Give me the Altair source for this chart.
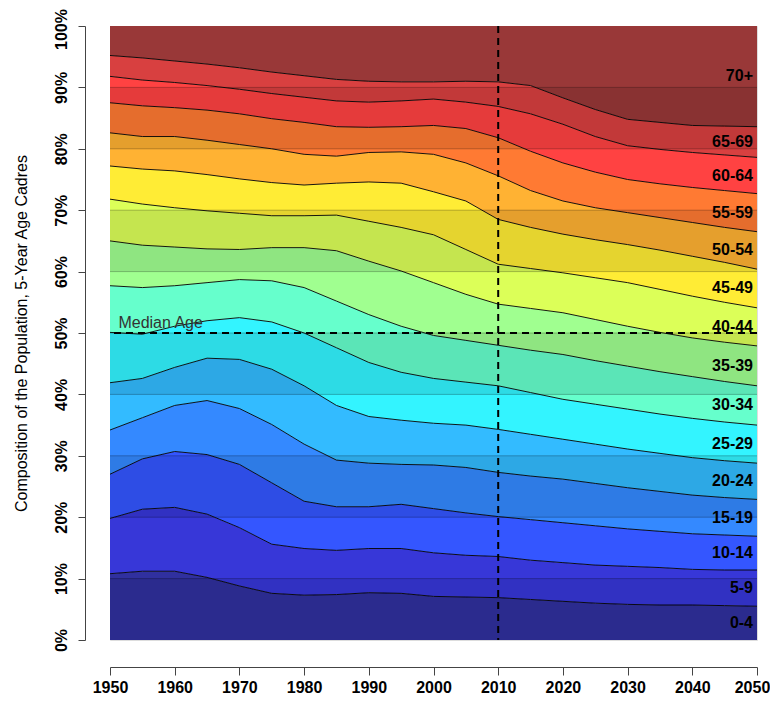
import altair as alt
import pandas as pd

years = list(range(1950, 2051, 5))
groups = ["0-4", "5-9", "10-14", "15-19", "20-24", "25-29", "30-34", "35-39",
          "40-44", "45-49", "50-54", "55-59", "60-64", "65-69", "70+"]

# cumulative share (%) at the top of each age group (except 70+, which reaches 100)
top_0_4 = [10.8, 11.2, 11.2, 10.2, 8.8, 7.6, 7.3, 7.4, 7.7, 7.6, 7.1, 7.0, 6.9, 6.6, 6.3, 6.0, 5.8, 5.7, 5.7, 5.6, 5.5]
top_5_9 = [19.8, 21.3, 21.6, 20.5, 18.3, 15.6, 14.9, 14.6, 14.9, 14.9, 14.2, 13.8, 13.6, 13.0, 12.6, 12.2, 12.0, 11.8, 11.5, 11.4, 11.4]
top_10_14 = [27.0, 29.5, 30.7, 30.2, 28.6, 25.6, 22.6, 21.7, 21.7, 22.1, 21.4, 20.7, 20.1, 19.6, 19.1, 18.6, 18.1, 17.7, 17.3, 17.1, 16.9]
top_15_19 = [34.2, 36.2, 38.2, 39.0, 37.7, 35.1, 31.9, 29.3, 28.8, 28.6, 28.5, 28.1, 27.3, 26.7, 26.2, 25.5, 24.8, 24.2, 23.6, 23.2, 22.9]
top_20_24 = [41.9, 42.6, 44.4, 45.9, 45.7, 44.1, 41.4, 38.2, 36.4, 35.8, 35.3, 35.0, 34.3, 33.5, 32.7, 31.9, 31.1, 30.4, 29.7, 29.2, 28.8]
top_25_29 = [50.1, 49.8, 51.1, 52.0, 52.5, 51.8, 50.0, 47.6, 45.2, 43.6, 42.6, 42.0, 41.4, 40.3, 39.2, 38.4, 37.6, 36.8, 36.1, 35.5, 35.0]
top_30_34 = [57.7, 57.4, 57.7, 58.2, 58.7, 58.5, 57.4, 55.2, 53.0, 51.1, 49.6, 48.8, 48.0, 47.2, 46.5, 45.5, 44.6, 43.7, 42.9, 42.1, 41.4]
top_35_39 = [65.0, 64.3, 64.0, 63.7, 63.6, 63.9, 63.9, 63.4, 61.7, 60.1, 58.2, 56.3, 54.7, 54.0, 53.3, 52.2, 51.1, 50.1, 49.2, 48.5, 47.9]
top_40_44 = [71.8, 71.0, 70.4, 69.9, 69.5, 69.1, 69.1, 69.2, 68.2, 67.2, 66.0, 63.6, 61.2, 60.5, 59.8, 59.0, 58.2, 57.1, 56.0, 55.0, 54.1]
top_45_49 = [77.2, 76.7, 76.4, 75.8, 75.1, 74.5, 74.1, 74.4, 74.6, 74.4, 73.0, 71.5, 68.5, 67.2, 66.1, 65.2, 64.4, 63.5, 62.5, 61.5, 60.4]
top_50_54 = [82.6, 82.0, 82.0, 81.4, 80.7, 80.0, 79.1, 78.8, 79.4, 79.5, 79.1, 77.7, 75.6, 73.2, 71.5, 70.4, 69.6, 68.8, 68.0, 67.2, 66.5]
top_55_59 = [87.5, 87.0, 86.7, 86.3, 85.7, 84.9, 84.3, 83.6, 83.5, 83.6, 83.8, 83.3, 81.8, 79.6, 77.7, 76.2, 75.0, 74.3, 73.7, 73.2, 72.7]
top_60_64 = [91.8, 91.2, 90.8, 90.3, 89.7, 89.0, 88.4, 87.8, 87.6, 87.8, 88.1, 87.6, 86.9, 85.7, 84.0, 82.0, 80.5, 79.9, 79.4, 79.0, 78.6]
top_65_69 = [95.2, 94.8, 94.3, 93.8, 93.2, 92.5, 91.9, 91.3, 91.0, 90.9, 90.9, 91.0, 90.9, 90.3, 88.3, 86.4, 84.8, 84.3, 83.8, 83.7, 83.6]

colors = ["#30309f", "#3737d8", "#3456ff", "#3489ff", "#33bbff", "#33f4ff",
          "#66ffcc", "#a0ff90", "#dcff58", "#ffec35", "#ffb233", "#ff7a33",
          "#ff4242", "#d84040", "#993838"]

x_ticks = list(range(1950, 2051, 10))
y_ticks = list(range(0, 101, 10))
shade_bands = [(0, 10), (20, 30), (40, 50), (60, 70), (80, 90)]
grid_levels = [10, 20, 30, 40, 50, 60, 70, 80, 90]

FONT = "Liberation Sans"

curves = [top_0_4, top_5_9, top_10_14, top_15_19, top_20_24, top_25_29, top_30_34,
          top_35_39, top_40_44, top_45_49, top_50_54, top_55_59, top_60_64, top_65_69]

rows = []
for gi, g in enumerate(groups):
    lower = [0.0] * len(years) if gi == 0 else curves[gi - 1]
    upper = [100.0] * len(years) if gi == len(groups) - 1 else curves[gi]
    for j, yr in enumerate(years):
        rows.append({"year": yr, "group": g, "order": gi, "lower": lower[j], "upper": upper[j]})
df_area = pd.DataFrame(rows)

line_rows = []
for ci, c in enumerate(curves):
    for j, yr in enumerate(years):
        line_rows.append({"year": yr, "curve": ci, "v": c[j]})
df_lines = pd.DataFrame(line_rows)

lab_rows = []
for gi, g in enumerate(groups):
    lo = 0.0 if gi == 0 else curves[gi - 1][-1]
    hi = 100.0 if gi == len(groups) - 1 else curves[gi][-1]
    lab_rows.append({"year": years[-1], "mid": (lo + hi) / 2, "label": g})
df_labels = pd.DataFrame(lab_rows)

df_bands = pd.DataFrame({"x0": [years[0]] * len(shade_bands), "x1": [years[-1]] * len(shade_bands),
                         "y0": [b[0] for b in shade_bands], "y1": [b[1] for b in shade_bands]})
df_grid = pd.DataFrame({"g": grid_levels})

xscale = alt.Scale(domain=[1950, 2050], nice=False, zero=False)
yscale = alt.Scale(domain=[0, 100], nice=False, zero=False)

x_axis = alt.Axis(values=x_ticks, format="d", offset=27, tickSize=8, labelFontSize=16,
                  labelFontWeight="bold", labelFont=FONT, labelPadding=4, labelColor="black",
                  labelOffset={"expr": "datum.value == 2050 ? -5 : 0"},
                  domainColor="#444", tickColor="#444", title=None, grid=False,
                  labelOverlap=False, labelFlush=False)
y_axis = alt.Axis(values=y_ticks, labelExpr="datum.value + '%'", offset=25, tickSize=7,
                  labelAngle=-90, labelAlign="center", labelBaseline="bottom",
                  labelFontSize=16, labelFontWeight="bold", labelFont=FONT, labelPadding=9,
                  labelOffset={"expr": "datum.value == 100 ? 3 : 0"},
                  labelColor="black", domainColor="#444", tickColor="#444", grid=False,
                  title="Composition of the Population, 5-Year Age Cadres",
                  titleFontSize=16, titleFont=FONT, titleFontWeight="normal",
                  titleColor="black", titlePadding=24, labelOverlap=False, labelFlush=False)


def X(field):
    return alt.X(field, scale=xscale, axis=x_axis)


def Y(field):
    return alt.Y(field, scale=yscale, axis=y_axis)


areas = alt.Chart(df_area).mark_area(interpolate="linear", strokeWidth=0).encode(
    x=X("year:Q"),
    y=Y("upper:Q"),
    y2="lower:Q",
    color=alt.Color("group:N", scale=alt.Scale(domain=groups, range=colors), legend=None),
    order="order:Q",
)

shade = alt.Chart(df_bands).mark_rect(color="black", opacity=0.1).encode(
    x=X("x0:Q"), x2="x1:Q",
    y=Y("y0:Q"), y2="y1:Q",
)

grid = alt.Chart(df_grid).mark_rule(color="black", opacity=0.25, strokeWidth=1).encode(
    y=Y("g:Q")
)

lines = alt.Chart(df_lines).mark_line(color="black", strokeWidth=1, opacity=0.9,
                                      interpolate="linear").encode(
    x=X("year:Q"),
    y=Y("v:Q"),
    detail="curve:N",
)

vline = alt.Chart(pd.DataFrame({"x": [2010]})).mark_rule(
    color="black", strokeWidth=2, strokeDash=[7, 5]).encode(x=X("x:Q"))
hline = alt.Chart(pd.DataFrame({"y": [50]})).mark_rule(
    color="black", strokeWidth=2, strokeDash=[7, 5]).encode(y=Y("y:Q"))

median_text = alt.Chart(pd.DataFrame({"x": [1951.3], "y": [50], "t": ["Median Age"]})).mark_text(
    align="left", baseline="bottom", dy=-2, fontSize=16, font=FONT, color="#333333").encode(
    x=X("x:Q"),
    y=Y("y:Q"),
    text="t:N")

labels = alt.Chart(df_labels).mark_text(
    align="right", baseline="middle", dx=-4, fontSize=16, fontWeight="bold",
    font=FONT, color="black").encode(
    x=X("year:Q"),
    y=Y("mid:Q"),
    text="label:N")

chart = alt.layer(areas, shade, grid, lines, vline, hline, median_text, labels).properties(
    width=647, height=614,
    autosize=alt.AutoSizeParams(type="none"),
    padding={"left": 102, "top": 18, "right": 13, "bottom": 56},
).configure_view(stroke="#444", strokeWidth=1).configure(background="white")

chart.save("out.html", embed_options={"renderer": "svg", "actions": False})
